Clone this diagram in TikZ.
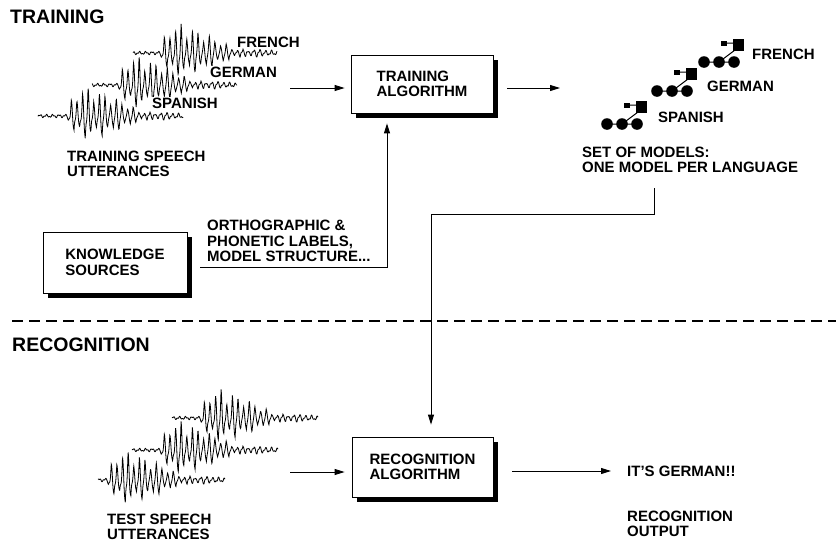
\documentclass[tikz,border=0pt]{standalone}
\usepackage{fontspec}
\setmainfont{Liberation Sans}
\usetikzlibrary{arrows.meta,shadows}

\tikzset{
  lbl/.style={font=\fontsize{15}{15.5}\selectfont\bfseries, align=left, inner sep=1pt, anchor=west},
  heading/.style={font=\fontsize{19.5}{20}\selectfont\bfseries, inner sep=0pt, anchor=west},
  algobox/.style={draw, line width=0.8pt, fill=white, align=left,
    font=\fontsize{15}{15.5}\selectfont\bfseries,
    drop shadow={shadow xshift=4.5pt, shadow yshift=-4.5pt, fill=black, opacity=1}},
  flow/.style={line width=0.9pt, -{Triangle[length=10pt,width=6pt]}},
  wave/.style={line width=0.8pt, line join=miter},
  divider/.style={line width=2.4pt, dash pattern=on 11pt off 6pt},
}

% burst x, baseline y, lead, tail
\newcommand{\speechwave}[4]{%
  \draw[wave] plot[domain=-#3:#4, samples=480]
    ({#1+\x}, {#2 + 1.1*sin(\x*57) + 0.7*sin(\x*131+40)
      + (\x>0)*28*(\x/20)*exp(1-\x/20)*(0.75+0.25*sin(\x*23))*(asin(sin(\x*64))/90 + 0.2*sin(\x*128+30))});
}

% first state x, y
\newcommand{\langmodel}[2]{%
  \begin{scope}[shift={(#1,#2)}]
    \draw[line width=1pt] (0,0) -- (30,0) (15,0) -- (31,-12) (21,-19) -- (33,-19);
    \fill (0,0) circle (5.8pt) (15,0) circle (5.8pt) (30,0) circle (5.8pt);
    \fill (29,-23) rectangle (40,-11);
    \fill (17,-21.5) rectangle (22.5,-16);
  \end{scope}
}

\begin{document}
\begin{tikzpicture}[x=1pt, y=-1pt]
  \useasboundingbox (0,0) rectangle (836,544);

  \node[heading] (trainhd) at (10,17) {TRAINING};
  \node[heading] (recoghd) at (12,345) {RECOGNITION};
  \draw[divider] (12,321) -- (836,321);

  \speechwave{67}{116}{29}{116}
  \speechwave{118}{85}{26}{119}
  \speechwave{160}{53}{27}{117}
  \node[lbl, fill=white] (wfr) at (236,42) {FRENCH};
  \node[lbl, fill=white] (wge) at (209,72) {GERMAN};
  \node[lbl, fill=white] (wsp) at (151,103) {SPANISH};
  \node[lbl] (trainutt) at (66,164) {TRAINING SPEECH\\UTTERANCES};

  \node[algobox, minimum width=142pt, minimum height=58pt] (train) at (422,84) {TRAINING\\ALGORITHM};

  \langmodel{607}{124}
  \langmodel{657}{91}
  \langmodel{704}{62}
  \node[lbl] (mfr) at (751,54) {FRENCH};
  \node[lbl] (mge) at (706,86) {GERMAN};
  \node[lbl] (msp) at (657,117) {SPANISH};
  \node[lbl] (models) at (581,160) {SET OF MODELS:\\ONE MODEL PER LANGUAGE};

  \node[algobox, minimum width=144pt, minimum height=61pt] (know) at (115,262.5) {KNOWLEDGE\\SOURCES};
  \node[lbl] (klabel) at (206,241) {ORTHOGRAPHIC \&\\PHONETIC LABELS,\\MODEL STRUCTURE...};

  \coordinate (wend) at (290,88);
  \coordinate (mend) at (560,88);
  \coordinate (kstart) at (200,267);
  \coordinate (kturn) at (387,267);
  \coordinate (mout) at (654,188);
  \coordinate (mturn) at (654,214);
  \coordinate (rturn) at (431,214);

  \draw[flow, shorten >=6pt] (wend) -- (wend -| train.west);
  \draw[flow, shorten <=14pt] (train.east |- mend) -- (mend);
  \draw[flow, shorten >=10pt] (kstart) -- (kturn) -- (kturn |- train.south);

  \speechwave{107}{480}{9}{118}
  \speechwave{160}{450}{28}{118}
  \speechwave{200}{418}{28}{118}
  \node[lbl] (testutt) at (106,527) {TEST SPEECH\\UTTERANCES};

  \node[algobox, minimum width=141pt, minimum height=60pt] (recog) at (422.5,467) {RECOGNITION\\ALGORITHM};
  \node[lbl] (verdict) at (626,471) {IT’S GERMAN!!};
  \node[lbl] (output) at (626,524) {RECOGNITION\\OUTPUT};

  \coordinate (tend) at (290,472);
  \draw[flow, shorten >=7pt] (tend) -- (tend -| recog.west);
  \draw[flow, shorten >=12pt] (mout) -- (mturn) -- (rturn) -- (rturn |- recog.north);
  \draw[flow, shorten <=19pt, shorten >=15pt] (verdict.west -| recog.east) -- (verdict.west);
\end{tikzpicture}
\end{document}
